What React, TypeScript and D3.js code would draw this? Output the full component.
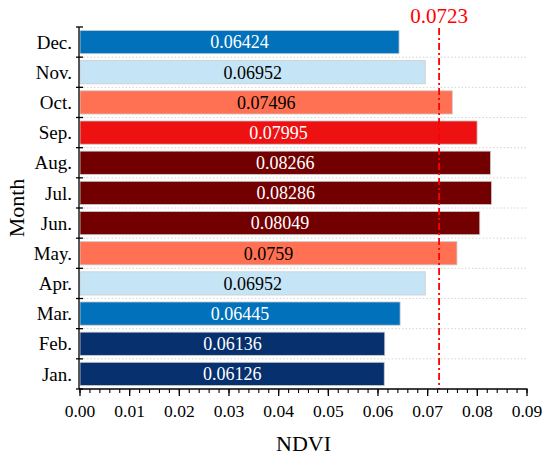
import * as d3 from "d3";

const months = ["Jan.", "Feb.", "Mar.", "Apr.", "May.", "Jun.", "Jul.", "Aug.", "Sep.", "Oct.", "Nov.", "Dec."];
const ndvi = [0.06126, 0.06136, 0.06445, 0.06952, 0.0759, 0.08049, 0.08286, 0.08266, 0.07995, 0.07496, 0.06952, 0.06424];
const labels = ["0.06126", "0.06136", "0.06445", "0.06952", "0.0759", "0.08049", "0.08286", "0.08266", "0.07995", "0.07496", "0.06952", "0.06424"];
const barColors = ["#06306e", "#06306e", "#0071ba", "#c5e5f6", "#ff7152", "#730000", "#730000", "#730000", "#ee1111", "#ff7152", "#c5e5f6", "#0071ba"];
const textColors = ["#fff", "#fff", "#fff", "#000", "#000", "#fff", "#fff", "#fff", "#fff", "#000", "#000", "#fff"];
const meanValue = 0.0723;
const xTicks = [0, 0.01, 0.02, 0.03, 0.04, 0.05, 0.06, 0.07, 0.08, 0.09];

const width = 550;
const height = 458;
const margin = { top: 27, right: 23, bottom: 69, left: 80 };
const font = "'Liberation Serif', 'Times New Roman', serif";

export default function App() {
    const x = d3.scaleLinear().domain([0, 0.09]).range([margin.left, width - margin.right]);
    const y = d3
        .scaleBand<string>()
        .domain([...months].reverse())
        .range([margin.top, height - margin.bottom])
        .paddingInner(0.23)
        .paddingOuter(0.115);
    const step = y.step();
    const y0 = margin.top;
    const yBottom = height - margin.bottom;
    const bounds = d3.range(months.length + 1).map((i) => y0 + i * step);
    const minor = d3.range(0, 0.0901, 0.002);
    const fmt = d3.format(".2f");

    return (
        <svg
            width={width}
            height={height}
            style={{ position: "absolute", left: 0, top: 0, background: "#fff" }}
            fontFamily={font}
        >
            {/* dotted grid at band edges */}
            {bounds.slice(1, -1).map((b, i) => (
                <line key={"g" + i} x1={x(0)} x2={x(0.09)} y1={b} y2={b} stroke="#d4d4d4" strokeWidth={1} strokeDasharray="1.5,2" />
            ))}

            {months.map((m, i) => (
                <rect
                    key={m}
                    x={x(0)}
                    y={y(m)}
                    width={x(ndvi[i]) - x(0)}
                    height={y.bandwidth()}
                    fill={barColors[i]}
                    stroke="#cccccc"
                    strokeWidth={0.8}
                />
            ))}
            {months.map((m, i) => (
                <text
                    key={"t" + m}
                    x={(x(0) + x(ndvi[i])) / 2}
                    y={(y(m) ?? 0) + y.bandwidth() / 2}
                    dy="0.35em"
                    textAnchor="middle"
                    fontSize={18}
                    fill={textColors[i]}
                >
                    {labels[i]}
                </text>
            ))}

            {/* mean line */}
            <line
                x1={x(meanValue)}
                x2={x(meanValue)}
                y1={y0 + 1}
                y2={yBottom}
                stroke="#ff0000"
                strokeWidth={1.8}
                strokeDasharray="7,3,2,3"
            />
            <text x={x(meanValue)} y={23} textAnchor="middle" fontSize={21} fill="#ff0000">
                {meanValue}
            </text>

            {/* y axis */}
            <line x1={x(0) - 1} x2={x(0) - 1} y1={y0} y2={yBottom} stroke="#000" strokeWidth={1.3} />
            {bounds.map((b, i) => (
                <line key={"yt" + i} x1={x(0) - 4} x2={x(0) + 3} y1={b} y2={b} stroke="#000" strokeWidth={1.3} />
            ))}
            {months.map((m) => (
                <text
                    key={"yl" + m}
                    x={x(0) - 8}
                    y={(y(m) ?? 0) + y.bandwidth() / 2}
                    dy="0.35em"
                    textAnchor="end"
                    fontSize={19}
                    fill="#000"
                >
                    {m}
                </text>
            ))}

            {/* x axis */}
            <line x1={x(0) - 1} x2={x(0.09) + 0.6} y1={yBottom} y2={yBottom} stroke="#000" strokeWidth={1.3} />
            {minor.map((v, i) => (
                <line key={"mn" + i} x1={x(v)} x2={x(v)} y1={yBottom} y2={yBottom + 4} stroke="#000" strokeWidth={1.1} />
            ))}
            {xTicks.map((v) => (
                <g key={"xt" + v}>
                    <line x1={x(v)} x2={x(v)} y1={yBottom} y2={yBottom + 7} stroke="#000" strokeWidth={1.3} />
                    <text x={x(v)} y={417} textAnchor="middle" fontSize={17.5} fill="#000">
                        {fmt(v)}
                    </text>
                </g>
            ))}

            <text x={(x(0) + x(0.09)) / 2} y={451} textAnchor="middle" fontSize={22} fill="#000">
                NDVI
            </text>
            <text
                transform={`translate(24,${(y0 + yBottom) / 2}) rotate(-90)`}
                textAnchor="middle"
                fontSize={22}
                fill="#000"
            >
                Month
            </text>
        </svg>
    );
}
